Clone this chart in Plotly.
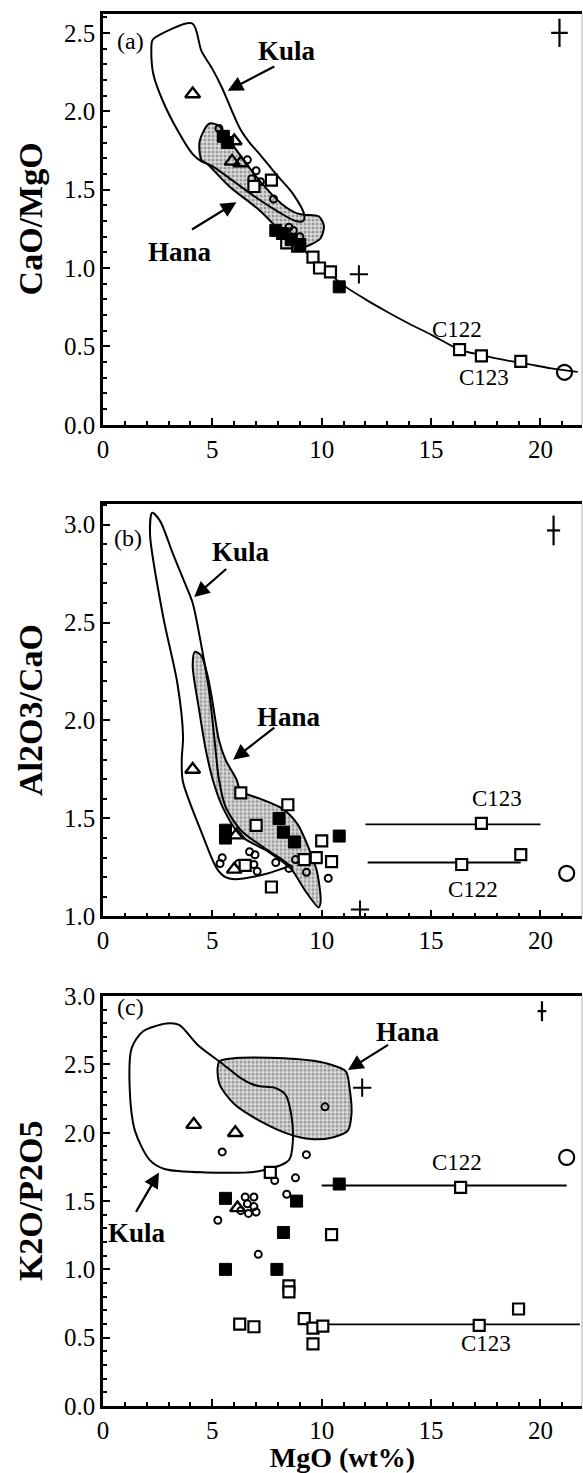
import plotly.graph_objects as go

# ---------------- data ----------------
# (a) CaO/MgO vs MgO
a_osq_x = [6.9, 7.7, 8.4, 8.9, 9.6, 9.9, 10.4, 16.3, 17.3, 19.1]
a_osq_y = [1.52, 1.56, 1.16, 1.14, 1.07, 1.00, 0.975, 0.48, 0.44, 0.405]
a_fsq_x = [5.5, 5.7, 7.9, 8.2, 8.6, 9.0, 10.8]
a_fsq_y = [1.84, 1.80, 1.24, 1.22, 1.18, 1.15, 0.88]
a_tri_x = [4.1, 6.0, 5.9, 6.3]
a_tri_y = [2.11, 1.81, 1.68, 1.67]
a_cir_x = [5.3, 6.6, 7.0, 6.8, 7.2, 7.8, 8.7, 9.0, 8.5]
a_cir_y = [1.89, 1.69, 1.62, 1.57, 1.55, 1.44, 1.24, 1.20, 1.26]
a_plus_x, a_plus_y = [11.7], [0.96]
a_bigc_x, a_bigc_y = [21.1], [0.335]
a_curve_x = [8.0, 9.0, 10.0, 10.8, 12.0, 13.0, 14.0, 15.0, 16.3, 17.3, 18.5, 19.5, 20.5, 21.7]
a_curve_y = [1.25, 1.13, 1.02, 0.91, 0.80, 0.72, 0.645, 0.575, 0.48, 0.445, 0.41, 0.385, 0.36, 0.338]
a_kula_x = [4.08, 4.5, 5.0, 5.44, 5.9, 6.3, 6.7, 7.14, 7.9, 8.67, 9.2, 9.15, 8.8, 8.0, 7.0, 6.0, 5.0, 4.5,
            4.08, 3.4, 2.72, 2.3, 2.21, 2.25, 2.38, 4.08]
a_kula_y = [2.56, 2.385, 2.27, 2.15, 2.00, 1.88, 1.80, 1.73, 1.60, 1.476, 1.34, 1.30, 1.30, 1.36, 1.45, 1.55,
            1.65, 1.68, 1.73, 1.88, 2.07, 2.237, 2.40, 2.45, 2.47, 2.56]
a_hana_x = [4.85, 5.27, 5.8, 7.14, 8.16, 8.84, 9.2, 9.86, 10.1, 9.95, 9.5, 9.0, 8.3, 7.14, 5.78, 4.76, 4.5,
            4.42, 4.85]
a_hana_y = [1.92, 1.91, 1.81, 1.56, 1.41, 1.35, 1.34, 1.33, 1.27, 1.19, 1.15, 1.13, 1.21, 1.37, 1.52, 1.665,
            1.69, 1.81, 1.92]
a_err = dict(x=20.87, y=2.50, ex=0.38, ey=0.09)

# (b) Al2O3/CaO vs MgO
b_osq_x = [6.3, 8.45, 7.0, 10.0, 9.75, 9.2, 10.45, 7.7, 17.3, 16.4, 19.1, 6.5]
b_osq_y = [1.63, 1.57, 1.465, 1.385, 1.30, 1.29, 1.28, 1.15, 1.475, 1.265, 1.315, 1.26]
b_fsq_x = [5.6, 5.6, 8.05, 8.25, 8.75, 10.8]
b_fsq_y = [1.44, 1.40, 1.50, 1.43, 1.38, 1.41]
b_tri_x = [4.1, 6.1, 6.0]
b_tri_y = [1.75, 1.415, 1.24]
b_cir_x = [5.45, 5.35, 6.2, 6.7, 6.95, 6.6, 6.9, 7.05, 7.9, 8.5, 8.8, 9.3, 10.3]
b_cir_y = [1.30, 1.27, 1.27, 1.33, 1.315, 1.27, 1.265, 1.23, 1.275, 1.245, 1.29, 1.225, 1.195]
b_plus_x, b_plus_y = [11.75], [1.035]
b_bigc_x, b_bigc_y = [21.2], [1.22]
b_c123_x, b_c123_y = [12.0, 20.0], [1.47, 1.47]
b_c122_x, b_c122_y = [12.1, 19.1], [1.275, 1.275]
b_kula_x = [2.25, 2.6, 3.2, 3.75, 4.1, 4.5, 4.85, 5.1, 5.3, 5.6, 6.3, 7.5, 8.5, 8.1, 7.2, 6.0, 5.6, 5.2, 4.5,
            3.65, 3.6, 3.66, 3.4, 2.75, 2.15, 2.25]
b_kula_y = [3.06, 3.02, 2.85, 2.70, 2.60, 2.38, 2.15, 1.90, 1.70, 1.56, 1.44, 1.34, 1.26, 1.24, 1.21, 1.19,
            1.20, 1.245, 1.43, 1.69, 1.80, 1.92, 2.19, 2.53, 2.95, 3.06]
b_hana_x = [4.2, 4.5, 4.8, 5.0, 5.3, 5.6, 6.1, 6.3, 7.2, 8.2, 8.9, 9.4, 9.78, 9.95, 9.86, 9.27, 8.58, 7.56,
            6.3, 5.5, 5.05, 4.7, 4.4, 4.1, 4.2]
b_hana_y = [2.35, 2.33, 2.22, 2.10, 1.90, 1.80, 1.70, 1.64, 1.60, 1.55, 1.47, 1.35, 1.23, 1.076, 1.046, 1.127,
            1.245, 1.33, 1.41, 1.55, 1.686, 1.85, 2.05, 2.28, 2.35]
b_err = dict(x=20.6, y=2.97, ex=0.3, ey=0.076)

# (c) K2O/P2O5 vs MgO
c_osq_x = [7.65, 10.45, 8.5, 8.5, 6.25, 6.9, 9.2, 9.6, 10.05, 9.6, 16.35, 17.2, 19.0]
c_osq_y = [1.71, 1.255, 0.88, 0.835, 0.60, 0.58, 0.64, 0.57, 0.585, 0.455, 1.60, 0.59, 0.71]
c_fsq_x = [5.6, 8.85, 10.8, 8.25, 5.6, 7.95]
c_fsq_y = [1.52, 1.50, 1.625, 1.27, 1.00, 1.00]
c_tri_x = [4.15, 6.05, 6.15]
c_tri_y = [2.06, 2.00, 1.45]
c_cir_x = [10.15, 5.45, 9.3, 7.85, 8.8, 8.4, 6.5, 6.9, 6.6, 6.9, 6.65, 6.3, 7.0, 5.25, 7.1]
c_cir_y = [2.19, 1.86, 1.84, 1.65, 1.67, 1.55, 1.53, 1.53, 1.48, 1.46, 1.41, 1.43, 1.42, 1.36, 1.11]
c_plus_x, c_plus_y = [11.85], [2.33]
c_bigc_x, c_bigc_y = [21.2], [1.82]
c_c122_x, c_c122_y = [10.0, 21.2], [1.614, 1.614]
c_c123_x, c_c123_y = [9.7, 21.8], [0.597, 0.597]
c_kula_x = [2.9, 3.48, 4.32, 5.5, 6.3, 6.83, 7.17, 7.84, 8.34, 8.6, 8.68, 8.5, 7.17, 4.66, 2.81, 2.14, 1.47,
            1.22, 1.31, 1.81, 2.9]
c_kula_y = [2.80, 2.79, 2.645, 2.50, 2.40, 2.355, 2.34, 2.33, 2.28, 2.14, 1.94, 1.80, 1.72, 1.71, 1.735, 1.80,
            2.01, 2.33, 2.62, 2.74, 2.80]
c_hana_x = [5.33, 6.33, 8.84, 10.18, 11.1, 11.27, 11.36, 11.19, 10.5, 9.5, 8.5, 7.17, 6.0, 5.33, 5.24, 5.33]
c_hana_y = [2.524, 2.55, 2.54, 2.51, 2.45, 2.33, 2.136, 2.015, 1.966, 1.954, 1.99, 2.087, 2.21, 2.354, 2.475,
            2.524]
c_err = dict(x=20.07, y=2.89, ex=0.2, ey=0.073)

# ---------------- styling ----------------
SERIF = "Liberation Serif"
BLACK = "black"
HANA_FILL = dict(shape=".", size=4, solidity=0.45, fgcolor="#555555", bgcolor="#dcdcdc")

fig = go.Figure()


def add_panel(n, kula, hana, osq, fsq, tri, cir, plus, bigc, err, lines, curve=None):
    xa = "x" if n == 1 else f"x{n}"
    ya = "y" if n == 1 else f"y{n}"
    kw = dict(xaxis=xa, yaxis=ya, showlegend=False, hoverinfo="skip")
    # Hana field (stippled)
    fig.add_trace(go.Scatter(x=hana[0], y=hana[1], mode="lines", fill="toself",
                             fillcolor="#c8c8c8", fillpattern=HANA_FILL,
                             line=dict(color=BLACK, width=2, shape="spline", smoothing=0.8), **kw))
    # Kula field outline
    fig.add_trace(go.Scatter(x=kula[0], y=kula[1], mode="lines",
                             line=dict(color=BLACK, width=2, shape="spline", smoothing=0.8), **kw))
    if curve is not None:
        fig.add_trace(go.Scatter(x=curve[0], y=curve[1], mode="lines",
                                 line=dict(color=BLACK, width=1.8, shape="spline"), **kw))
    for lx, ly in lines:
        fig.add_trace(go.Scatter(x=lx, y=ly, mode="lines", line=dict(color=BLACK, width=1.8), **kw))
    fig.add_trace(go.Scatter(x=cir[0], y=cir[1], mode="markers",
                             marker=dict(symbol="circle-open", size=7, color=BLACK, line=dict(width=2)), **kw))
    fig.add_trace(go.Scatter(x=tri[0], y=tri[1], mode="markers",
                             marker=dict(symbol="triangle-up-open", size=13, color=BLACK, line=dict(width=2.4)), **kw))
    fig.add_trace(go.Scatter(x=osq[0], y=osq[1], mode="markers",
                             marker=dict(symbol="square", size=11, color="white",
                                         line=dict(color=BLACK, width=2.2)), **kw))
    fig.add_trace(go.Scatter(x=fsq[0], y=fsq[1], mode="markers",
                             marker=dict(symbol="square", size=12, color=BLACK,
                                         line=dict(color=BLACK, width=1)), **kw))
    fig.add_trace(go.Scatter(x=plus[0], y=plus[1], mode="markers",
                             marker=dict(symbol="cross-thin", size=13, color=BLACK,
                                         line=dict(color=BLACK, width=2)), **kw))
    fig.add_trace(go.Scatter(x=bigc[0], y=bigc[1], mode="markers",
                             marker=dict(symbol="circle-open", size=15, color=BLACK, line=dict(width=2.2)), **kw))
    # typical analytical uncertainty
    fig.add_trace(go.Scatter(x=[err["x"]], y=[err["y"]], mode="markers",
                             marker=dict(size=1, color="rgba(0,0,0,0)"),
                             error_x=dict(type="data", array=[err["ex"]], width=0, thickness=2.2, color=BLACK),
                             error_y=dict(type="data", array=[err["ey"]], width=0, thickness=2.2, color=BLACK),
                             **kw))


add_panel(1, (a_kula_x, a_kula_y), (a_hana_x, a_hana_y), (a_osq_x, a_osq_y), (a_fsq_x, a_fsq_y),
          (a_tri_x, a_tri_y), (a_cir_x, a_cir_y), (a_plus_x, a_plus_y), (a_bigc_x, a_bigc_y), a_err, [],
          curve=(a_curve_x, a_curve_y))
add_panel(2, (b_kula_x, b_kula_y), (b_hana_x, b_hana_y), (b_osq_x, b_osq_y), (b_fsq_x, b_fsq_y),
          (b_tri_x, b_tri_y), (b_cir_x, b_cir_y), (b_plus_x, b_plus_y), (b_bigc_x, b_bigc_y), b_err,
          [(b_c123_x, b_c123_y), (b_c122_x, b_c122_y)])
add_panel(3, (c_kula_x, c_kula_y), (c_hana_x, c_hana_y), (c_osq_x, c_osq_y), (c_fsq_x, c_fsq_y),
          (c_tri_x, c_tri_y), (c_cir_x, c_cir_y), (c_plus_x, c_plus_y), (c_bigc_x, c_bigc_y), c_err,
          [(c_c122_x, c_c122_y), (c_c123_x, c_c123_y)])

# ---------------- layout ----------------
W, H = 583, 1473
M_L, M_R, M_T, M_B = 103, 1, 10, 67
plot_h = H - M_T - M_B


def dom(top_px, bot_px):
    return [(H - M_B - bot_px) / plot_h, (H - M_B - top_px) / plot_h]


doms = [dom(10, 422), dom(501, 915), dom(995, 1406)]
yranges = [[0, 2.62], [1.0, 3.107], [0, 3.0]]

tickfont = dict(family=SERIF, size=25, color=BLACK)
layout = dict(width=W, height=H, margin=dict(l=M_L, r=M_R, t=M_T, b=M_B),
              paper_bgcolor="white", plot_bgcolor="white", showlegend=False)

for i in range(3):
    sfx = "" if i == 0 else str(i + 1)
    layout["xaxis" + sfx] = dict(
        domain=[0, 1], anchor="y" + sfx, range=[0, 21.9], tick0=0, dtick=5,
        showline=True, linewidth=2.5, linecolor=BLACK, mirror=True,
        ticks="inside", ticklen=7, tickwidth=2, tickcolor=BLACK,
        minor=dict(ticks="inside", ticklen=4, tickwidth=1.5, dtick=1, tickcolor=BLACK),
        showgrid=False, zeroline=False, tickfont=tickfont,
        title=dict(text="<b>MgO (wt%)</b>", font=dict(family=SERIF, size=28, color=BLACK), standoff=2)
        if i == 2 else None)
    layout["yaxis" + sfx] = dict(
        domain=doms[i], anchor="x" + sfx, range=yranges[i], tick0=0, dtick=0.5, tickformat=".1f",
        showline=True, linewidth=2.5, linecolor=BLACK, mirror=False,
        ticks="inside", ticklen=7, tickwidth=2, tickcolor=BLACK,
        minor=dict(ticks="inside", ticklen=4, tickwidth=1.5, dtick=0.1, tickcolor=BLACK),
        showgrid=False, zeroline=False, tickfont=tickfont)

fig.update_layout(**layout)

# faint right-hand frame line of each panel
for i in range(3):
    fig.add_shape(type="line", xref="paper", yref="paper", x0=1, x1=1, y0=doms[i][0], y1=doms[i][1],
                  line=dict(color="#b0b0b0", width=1))

# y-axis titles
ytitles = ["CaO/MgO", "Al2O3/CaO", "K2O/P2O5"]
for i, t in enumerate(ytitles):
    fig.add_annotation(text=f"<b>{t}</b>", xref="paper", yref="paper", x=(30 - M_L) / (W - M_L - M_R),
                       y=sum(doms[i]) / 2, textangle=-90, showarrow=False, xanchor="center", yanchor="middle",
                       font=dict(family=SERIF, size=34, color=BLACK))

# panel text labels
labels = [
    (1, "(a)", 1.25, 2.45, False, 24), (1, "Kula", 8.4, 2.385, True, 27), (1, "Hana", 3.5, 1.10, True, 27),
    (1, "C122", 16.2, 0.606, False, 23), (1, "C123", 17.4, 0.30, False, 23),
    (2, "(b)", 1.15, 2.93, False, 24), (2, "Kula", 6.3, 2.86, True, 27), (2, "Hana", 8.5, 2.02, True, 27),
    (2, "C123", 18.0, 1.60, False, 23), (2, "C122", 16.9, 1.136, False, 23),
    (3, "(c)", 1.25, 2.92, False, 24), (3, "Hana", 13.95, 2.74, True, 27), (3, "Kula", 1.55, 1.27, True, 27),
    (3, "C122", 16.2, 1.78, False, 23), (3, "C123", 17.5, 0.46, False, 23),
]
for n, t, x, y, bold, sz in labels:
    sfx = "" if n == 1 else str(n)
    fig.add_annotation(text=f"<b>{t}</b>" if bold else t, x=x, y=y, xref="x" + sfx, yref="y" + sfx,
                       showarrow=False, font=dict(family=SERIF, size=sz, color=BLACK))

# arrows pointing at the fields: (panel, tail x, tail y, head x, head y)
arrows = [
    (1, 7.9, 2.29, 5.7, 2.13), (1, 4.0, 1.24, 6.1, 1.42),
    (2, 5.7, 2.78, 4.17, 2.63), (2, 7.9, 1.97, 5.95, 1.80),
    (3, 13.1, 2.65, 11.2, 2.46), (3, 1.47, 1.41, 2.56, 1.71),
]
for n, tx, ty, hx, hy in arrows:
    sfx = "" if n == 1 else str(n)
    fig.add_annotation(text="", x=hx, y=hy, ax=tx, ay=ty, xref="x" + sfx, yref="y" + sfx,
                       axref="x" + sfx, ayref="y" + sfx, showarrow=True, arrowhead=2, arrowsize=1.4,
                       arrowwidth=2.2, arrowcolor=BLACK)

fig.write_html("out.html")
